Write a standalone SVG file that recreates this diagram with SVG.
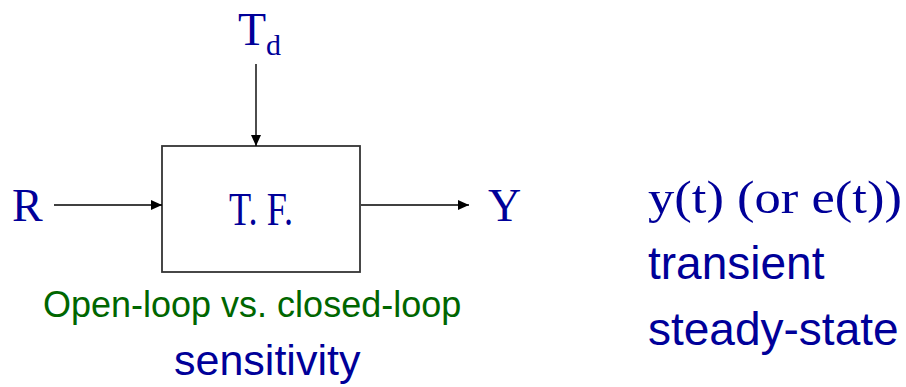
<svg xmlns="http://www.w3.org/2000/svg" width="906" height="387" viewBox="0 0 906 387">
<style>
.serif{font-family:"Liberation Serif","DejaVu Serif",serif;fill:#000099}
.sans{font-family:"Liberation Sans",Arial,sans-serif;fill:#000099}
.green{font-family:"Liberation Sans",Arial,sans-serif;fill:#006600}
.wire{stroke:#000;stroke-width:1.4;fill:none}
</style>
<defs>
<marker id="ah" markerWidth="11" markerHeight="10" refX="11" refY="5" orient="auto" markerUnits="userSpaceOnUse">
<path d="M0,0 L11,5 L0,10 Z" fill="#000"/>
</marker>
</defs>
<rect width="906" height="387" fill="#fff"/>
<g id="block">
<rect x="162" y="146" width="198" height="126" fill="#fff" stroke="#333" stroke-width="1.8"/>
<text class="serif" x="229" y="225" font-size="46" textLength="64" lengthAdjust="spacingAndGlyphs">T. F.</text>
</g>
<g id="input-R"><text class="serif" x="12" y="221" font-size="46">R</text></g>
<g id="output-Y"><text class="serif" x="488" y="221" font-size="46">Y</text></g>
<g id="disturbance-Td"><text class="serif" x="238" y="45" font-size="46">T<tspan font-size="30" dy="10">d</tspan></text></g>
<g id="connectors">
<line class="wire" x1="54" y1="205" x2="162" y2="205" marker-end="url(#ah)"/>
<line class="wire" x1="361" y1="205" x2="469" y2="205" marker-end="url(#ah)"/>
<line class="wire" x1="256" y1="64" x2="256" y2="146" marker-end="url(#ah)"/>
</g>
<g id="notes">
<text class="serif" x="648" y="213" font-size="46" textLength="254" lengthAdjust="spacingAndGlyphs">y(t) (or e(t))</text>
<text class="sans" x="648" y="279" font-size="46">transient</text>
<text class="sans" x="648" y="345" font-size="46">steady-state</text>
<text class="green" x="43" y="317" font-size="36">Open-loop vs. closed-loop</text>
<text class="sans" x="174" y="375" font-size="43">sensitivity</text>
</g>
</svg>
